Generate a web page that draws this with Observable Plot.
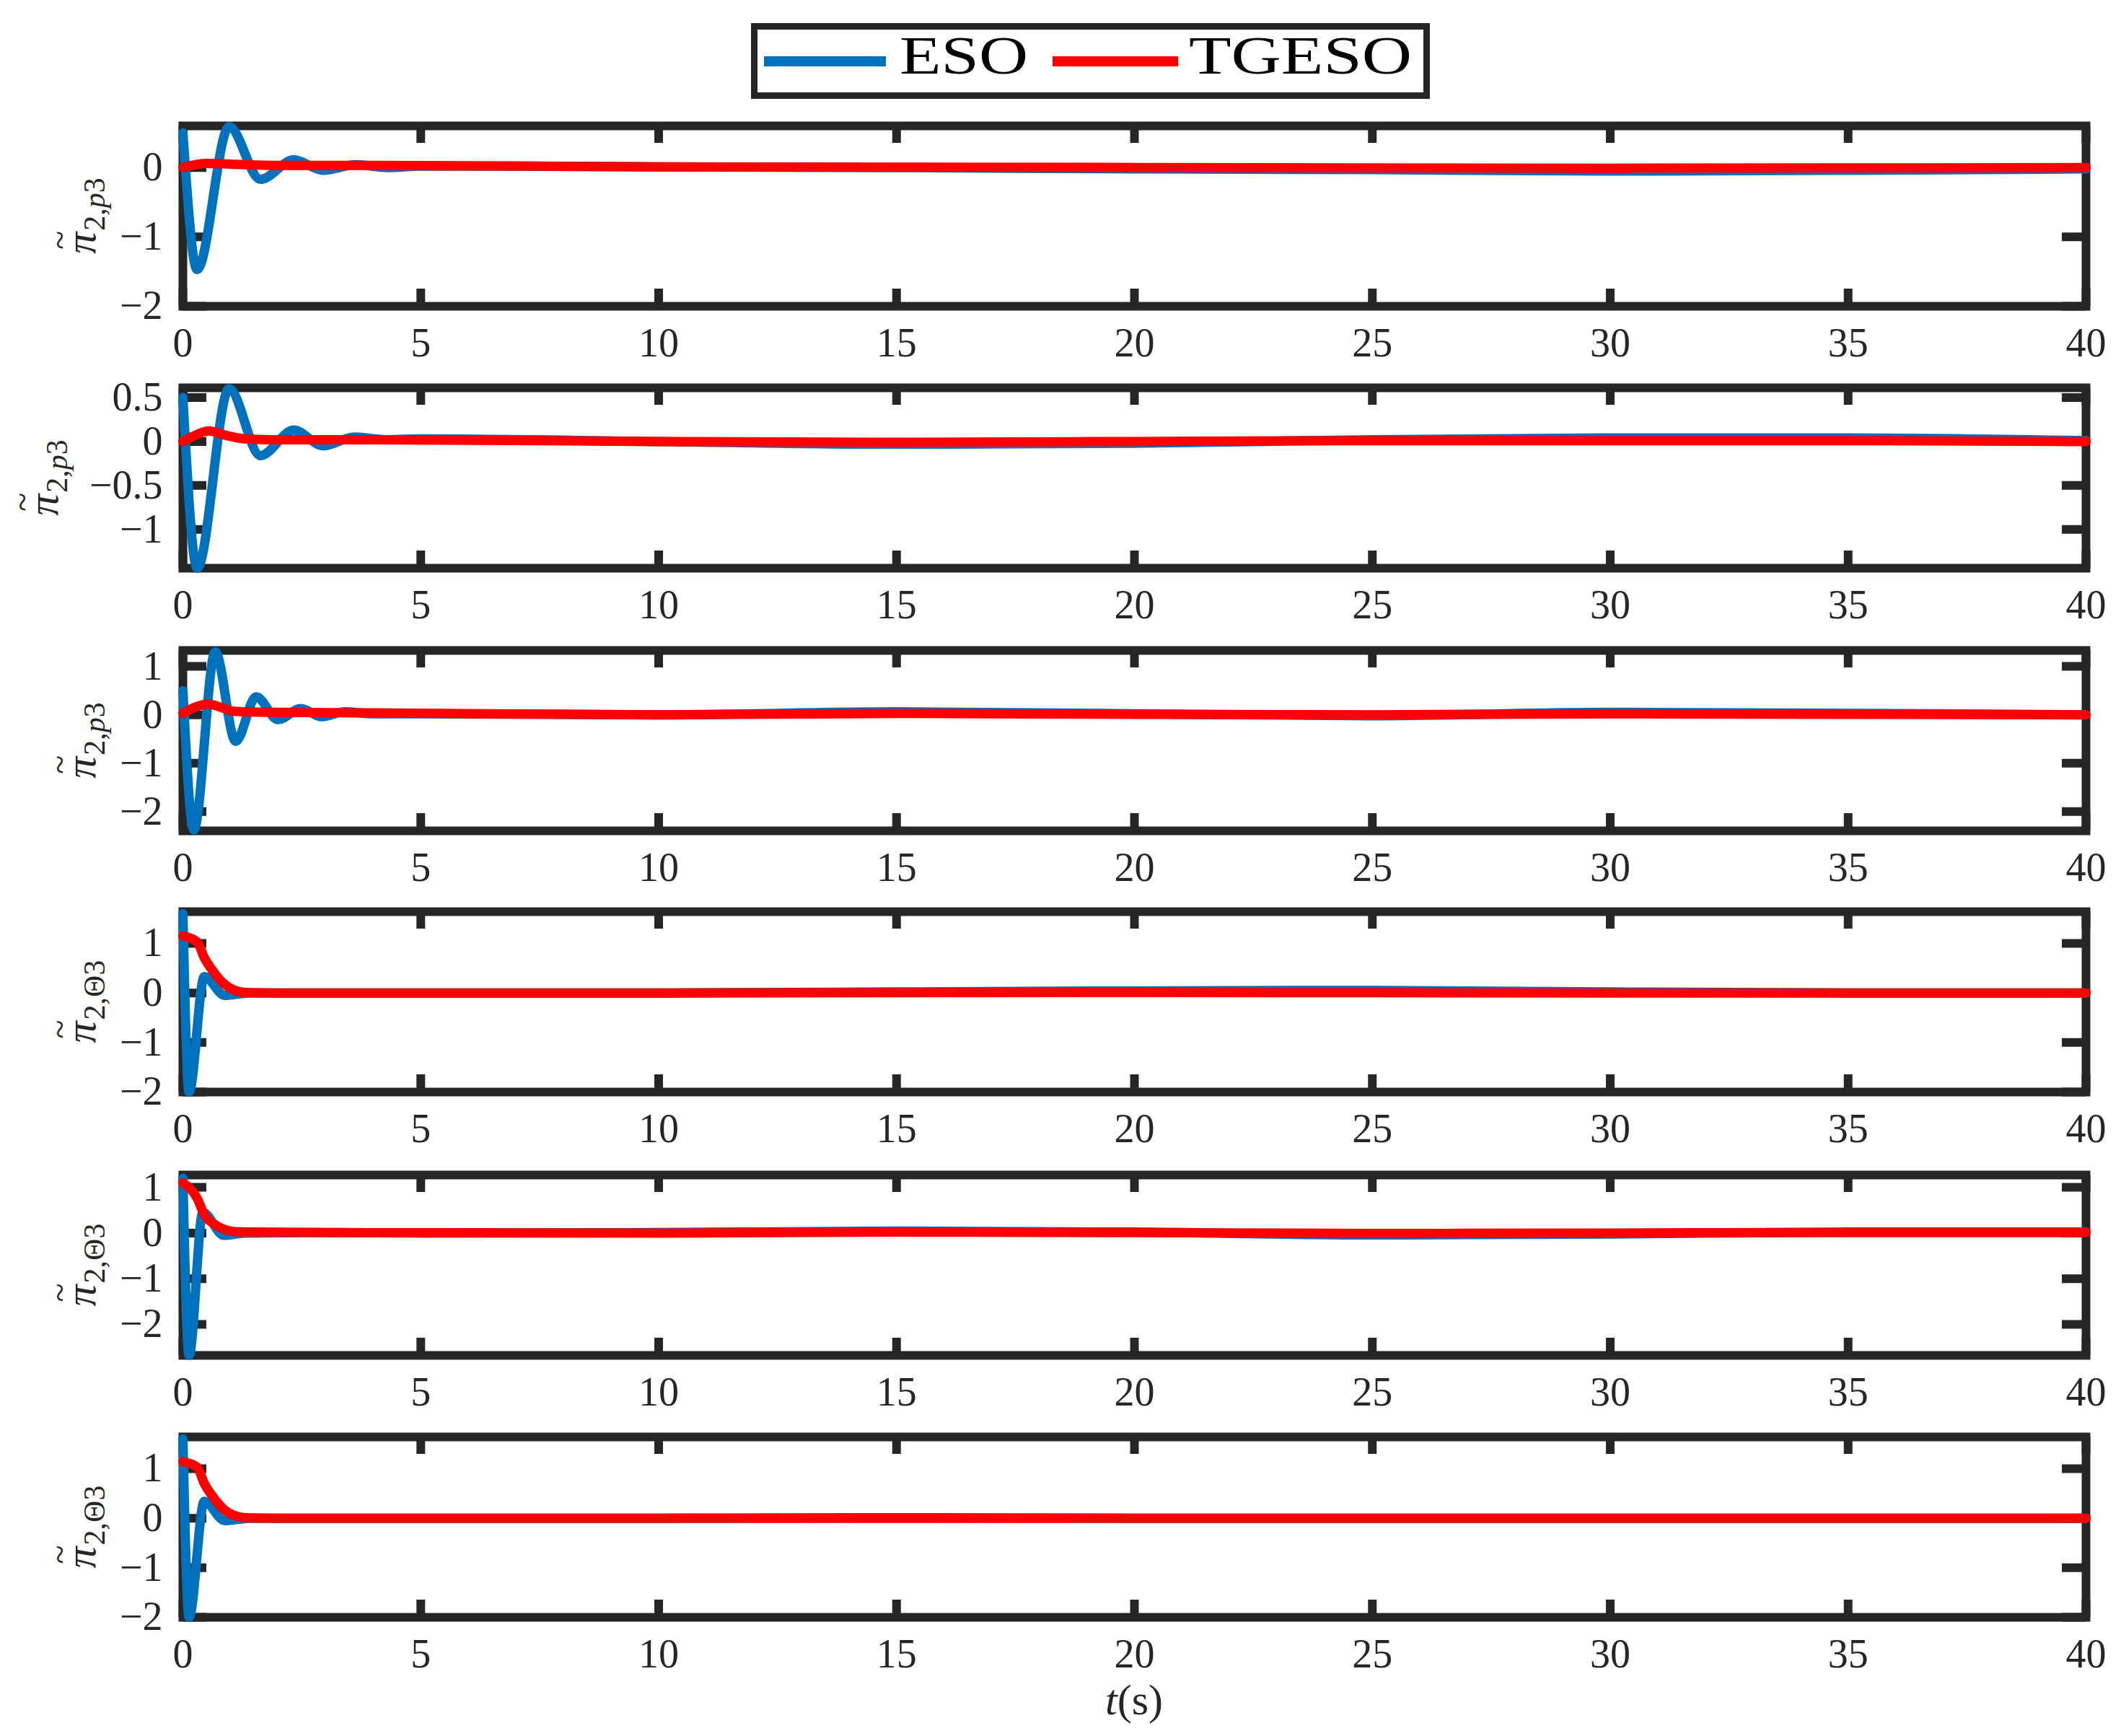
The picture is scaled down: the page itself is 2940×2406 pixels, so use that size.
<!DOCTYPE html>
<html>
<head>
<meta charset="utf-8">
<script src="https://cdn.jsdelivr.net/npm/d3@7"></script>
<script src="https://cdn.jsdelivr.net/npm/@observablehq/plot@0.6"></script>
<style>
  html, body { margin: 0; padding: 0; background: #fff; overflow: hidden; }
  #fig { position: relative; width: 2940px; height: 2406px; background: #fff; }
  #fig svg.panel { position: absolute; left: 0; }
</style>
</head>
<body>
<div id="fig"></div>
<script>
// ---------------- data ----------------
const seriesNames = ["ESO", "TGESO"];
const xTicks = [0, 5, 10, 15, 20, 25, 30, 35, 40];

// panel 1
const tE1 = [0, 0.3, 0.97, 1.63, 2.33, 2.95, 3.63, 4.3, 5, 7, 10, 15, 20, 25, 30, 35, 40];
const eso1 = [0.5, -1.47, 0.59, -0.17, 0.11, -0.04, 0.04, 0.0, 0.02, 0.02, 0.01, 0.0, -0.02, -0.03, -0.05, -0.04, -0.02];
const tT1 = [0, 0.5, 1.0, 2, 4, 10, 20, 30, 40];
const tgeso1 = [0.0, 0.06, 0.05, 0.03, 0.03, 0.01, 0.0, -0.01, 0.0];
const yTicks1 = [-2, -1, 0];
const yDom1 = [-2, 0.6];

// panel 2
const tE2 = [0, 0.3, 0.97, 1.63, 2.33, 2.95, 3.6, 4.3, 5, 10, 15, 20, 25, 30, 35, 40];
const eso2 = [0.5, -1.44, 0.6, -0.16, 0.13, -0.05, 0.05, 0.02, 0.03, 0.0, -0.03, -0.02, 0.02, 0.04, 0.04, 0.01];
const tT2 = [0, 0.3, 0.55, 0.9, 1.3, 2, 4, 10, 15, 20, 25, 30, 35, 40];
const tgeso2 = [0.0, 0.08, 0.12, 0.07, 0.03, 0.02, 0.02, 0.0, -0.01, 0.0, 0.01, 0.01, 0.01, 0.0];
const yTicks2 = [-1, -0.5, 0, 0.5];
const yDom2 = [-1.44, 0.61];

// panel 3
const tE3 = [0, 0.23, 0.68, 1.11, 1.54, 2.0, 2.48, 2.91, 3.4, 4, 5, 10, 15, 20, 25, 30, 35, 40];
const eso3 = [0.5, -2.38, 1.3, -0.55, 0.37, -0.1, 0.13, -0.04, 0.06, 0.02, 0.02, 0.0, 0.06, 0.02, -0.02, 0.05, 0.03, 0.0];
const tT3 = [0, 0.53, 1.1, 2, 4, 10, 15, 20, 25, 30, 35, 40];
const tgeso3 = [0.03, 0.22, 0.07, 0.05, 0.04, 0.0, 0.03, 0.01, 0.0, 0.02, 0.01, 0.0];
const yTicks3 = [-2, -1, 0, 1];
const yDom3 = [-2.4, 1.33];

// panel 4
const tE4 = [0, 0.13, 0.45, 0.88, 1.4, 3, 5, 10, 15, 20, 25, 30, 35, 40];
const eso4 = [1.6, -2.0, 0.33, -0.05, 0.0, 0.0, 0.0, 0.0, 0.02, 0.04, 0.05, 0.02, 0.0, 0.0];
const tT4 = [0, 0.3, 0.45, 0.65, 0.87, 1.07, 1.3, 2, 5, 10, 20, 30, 40];
const tgeso4 = [1.15, 1.03, 0.71, 0.42, 0.18, 0.06, 0.01, 0.0, 0.0, 0.0, 0.01, 0.0, 0.0];
const yTicks4 = [-2, -1, 0, 1];
const yDom4 = [-2, 1.64];

// panel 5
const tE5 = [0, 0.13, 0.42, 0.86, 1.3, 3, 5, 10, 15, 20, 25, 30, 35, 40];
const eso5 = [1.2, -2.68, 0.45, -0.05, 0.0, 0.01, 0.0, 0.01, 0.04, 0.02, -0.04, -0.02, 0.02, 0.02];
const tT5 = [0, 0.3, 0.45, 0.65, 0.87, 1.1, 1.5, 3, 10, 15, 20, 25, 30, 35, 40];
const tgeso5 = [1.1, 0.76, 0.4, 0.2, 0.08, 0.03, 0.02, 0.01, 0.0, 0.02, 0.01, -0.01, 0.0, 0.01, 0.01];
const yTicks5 = [-2, -1, 0, 1];
const yDom5 = [-2.68, 1.27];

// panel 6
const tE6 = [0, 0.13, 0.45, 0.88, 1.4, 5, 10, 15, 20, 25, 30, 35, 40];
const eso6 = [1.6, -2.0, 0.34, -0.05, 0.0, 0.0, 0.0, 0.01, 0.0, 0.0, 0.0, 0.0, 0.0];
const tT6 = [0, 0.3, 0.45, 0.65, 0.87, 1.07, 1.3, 2, 5, 10, 20, 30, 40];
const tgeso6 = [1.14, 1.03, 0.7, 0.41, 0.17, 0.06, 0.01, 0.0, 0.0, 0.0, 0.0, 0.0, 0.0];
const yTicks6 = [-2, -1, 0, 1];
const yDom6 = [-2, 1.64];

const subSymbols = ["p", "p", "p", "Θ", "Θ", "Θ"];
const xAxisLabel = ["t", "(s)"];

// ---------------- layout / style ----------------
const BLUE = "#0072BD", RED = "#FF0000", INK = "#262626";
const FONT = "'Liberation Serif', 'Times New Roman', serif";
const W = 2940, ML = 253, MR = 49, MT = 20, MB = 90, PH = 250;
const frameTops = [174, 537, 901, 1263, 1628, 1991];
const labelBaseX = [132, 80, 132, 132, 132, 132];

const panels = [
  {tE: tE1, eso: eso1, tT: tT1, tg: tgeso1, ticks: yTicks1, dom: yDom1},
  {tE: tE2, eso: eso2, tT: tT2, tg: tgeso2, ticks: yTicks2, dom: yDom2},
  {tE: tE3, eso: eso3, tT: tT3, tg: tgeso3, ticks: yTicks3, dom: yDom3},
  {tE: tE4, eso: eso4, tT: tT4, tg: tgeso4, ticks: yTicks4, dom: yDom4},
  {tE: tE5, eso: eso5, tT: tT5, tg: tgeso5, ticks: yTicks5, dom: yDom5},
  {tE: tE6, eso: eso6, tT: tT6, tg: tgeso6, ticks: yTicks6, dom: yDom6}
];

const fmt = d => (d < 0 ? "\u2212" + Math.abs(d) : String(d));
const fig = document.getElementById("fig");

panels.forEach((p, i) => {
  const esoData = p.tE.map((t, j) => ({t, v: p.eso[j]}));
  const tgData = p.tT.map((t, j) => ({t, v: p.tg[j]}));
  const [y0, y1] = p.dom;
  const pxPerY = PH / (y1 - y0);
  const pxPerX = (W - ML - MR) / 40;
  const xTickLen = 24 / pxPerY;
  const yTickLen = 33 / pxPerX;

  const svg = Plot.plot({
    width: W, height: MT + PH + MB,
    marginLeft: ML, marginRight: MR, marginTop: MT, marginBottom: MB,
    x: {domain: [0, 40]},
    y: {domain: p.dom},
    style: {background: "transparent", fontFamily: FONT, fontSize: "56px", color: INK, overflow: "visible"},
    marks: [
      Plot.ruleX(xTicks, {x: d => d, y1: () => y0, y2: () => y0 + xTickLen, stroke: INK, strokeWidth: 12}),
      Plot.ruleX(xTicks, {x: d => d, y1: () => y1 - xTickLen, y2: () => y1, stroke: INK, strokeWidth: 12}),
      Plot.ruleY(p.ticks, {y: d => d, x1: () => 0, x2: () => yTickLen, stroke: INK, strokeWidth: 12}),
      Plot.ruleY(p.ticks, {y: d => d, x1: () => 40 - yTickLen, x2: () => 40, stroke: INK, strokeWidth: 12}),
      Plot.frame({stroke: INK, strokeWidth: 12}),
      Plot.axisX({ticks: xTicks, anchor: "bottom", tickSize: 0, tickPadding: 30, label: null, tickFormat: fmt, fontSize: 56}),
      Plot.axisY({ticks: p.ticks, anchor: "left", tickSize: 0, tickPadding: 28, label: null, tickFormat: fmt, fontSize: 56}),
      Plot.line(esoData, {x: "t", y: "v", stroke: BLUE, strokeWidth: 13, curve: "monotone-x", strokeLinejoin: "round"}),
      Plot.line(tgData, {x: "t", y: "v", stroke: RED, strokeWidth: 13, curve: "monotone-x", strokeLinejoin: "round"})
    ]
  });
  svg.classList.add("panel");
  svg.style.top = (frameTops[i] - MT) + "px";
  fig.appendChild(svg);

  // y-axis label  π̃_{2,p3} / π̃_{2,Θ3}  (rotated; local +x = up the page, local -y = left)
  const g = d3.select(svg).append("g")
    .attr("transform", `translate(${labelBaseX[i]},${MT + PH / 2}) rotate(-90)`)
    .attr("text-anchor", "start")
    .attr("fill", INK).style("font-family", FONT);
  const pi = g.append("text").attr("y", 0)
    .attr("font-size", 60).attr("font-style", "italic").text("\u03C0");
  const sub = g.append("text").attr("y", 13).attr("font-size", 42);
  sub.append("tspan").text("2,");
  sub.append("tspan").attr("font-style", subSymbols[i] === "p" ? "italic" : "normal").text(subSymbols[i]);
  sub.append("tspan").text("3");
  const piW = pi.node().getComputedTextLength();
  const subW = sub.node().getComputedTextLength();
  const start = -(piW + 2 + subW) / 2;
  pi.attr("x", start);
  sub.attr("x", start + piW + 2);
  g.append("text").attr("x", start + piW / 2 + 4).attr("y", -33)
    .attr("text-anchor", "middle").attr("font-size", 48).text("~");
});

// x-axis title and legend
const over = d3.select(fig).append("svg")
  .attr("width", W).attr("height", 2406)
  .style("position", "absolute").style("left", 0).style("top", 0)
  .style("pointer-events", "none");

const xt = over.append("text").attr("x", 1572).attr("y", 2376)
  .attr("text-anchor", "middle").attr("fill", INK)
  .style("font-family", FONT).attr("font-size", 60);
xt.append("tspan").attr("font-style", "italic").text(xAxisLabel[0]);
xt.append("tspan").text(xAxisLabel[1]);

const lg = over.append("g");
lg.append("rect").attr("x", 1045.5).attr("y", 36.5).attr("width", 932).attr("height", 96)
  .attr("fill", "#fff").attr("stroke", INK).attr("stroke-width", 9);
const items = [
  {name: seriesNames[0], color: BLUE, x0: 1059, x1: 1228, tx: 1247, tw: 178},
  {name: seriesNames[1], color: RED, x0: 1459, x1: 1633, tx: 1648, tw: 309}
];
items.forEach(it => {
  lg.append("line").attr("x1", it.x0).attr("x2", it.x1).attr("y1", 85).attr("y2", 85)
    .attr("stroke", it.color).attr("stroke-width", 14);
  lg.append("text").attr("x", it.tx).attr("y", 102).attr("fill", "#000")
    .style("font-family", FONT).attr("font-size", 74)
    .attr("textLength", it.tw).attr("lengthAdjust", "spacingAndGlyphs")
    .text(it.name);
});
</script>
</body>
</html>
